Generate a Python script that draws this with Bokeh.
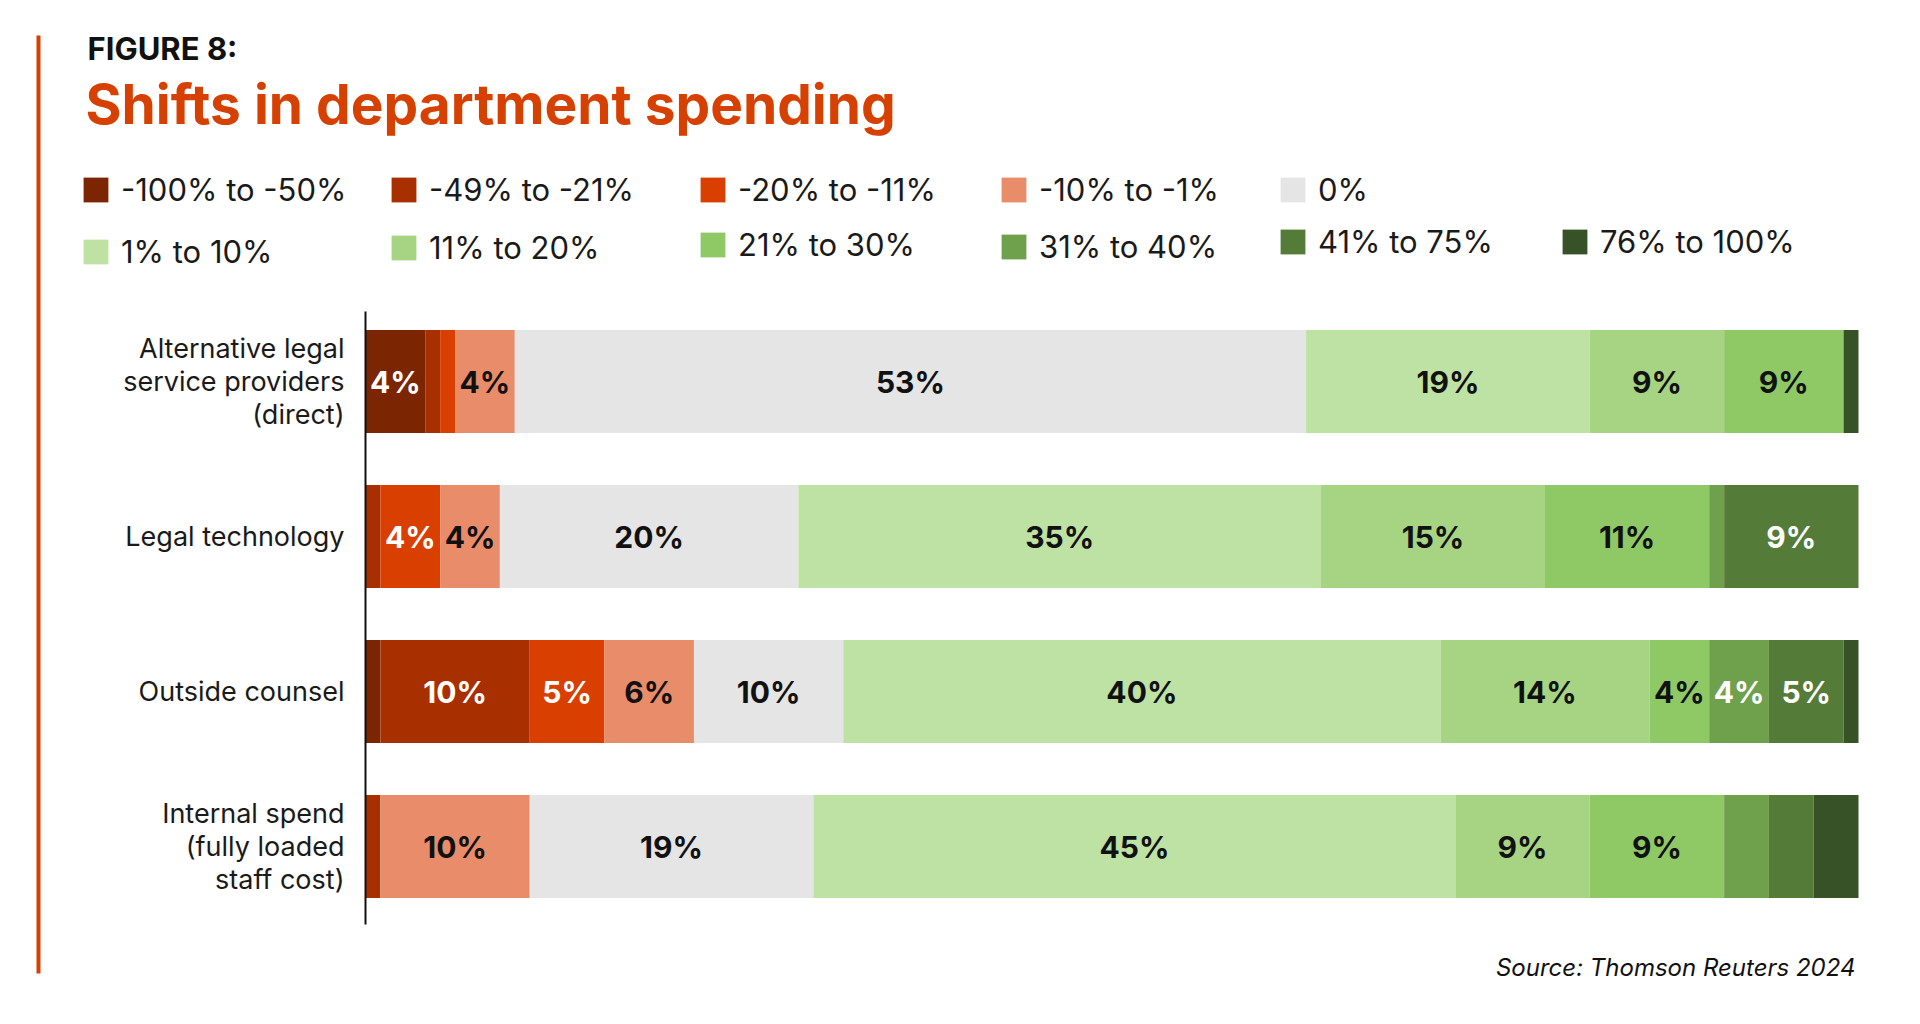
from bokeh.plotting import figure
from bokeh.models import Legend, LegendItem, ColumnDataSource, Range1d, Label, BoxAnnotation
from bokeh.core.properties import value
from bokeh.embed import file_html
from bokeh.resources import INLINE

# ---------------- data ----------------
categories = [
    "Alternative legal\nservice providers\n(direct)",
    "Legal technology",
    "Outside counsel",
    "Internal spend\n(fully loaded\nstaff cost)",
]
bands = ["-100% to -50%", "-49% to -21%", "-20% to -11%", "-10% to -1%", "0%",
         "1% to 10%", "11% to 20%", "21% to 30%", "31% to 40%", "41% to 75%", "76% to 100%"]

alsp_values = [4, 1, 1, 4, 53, 19, 9, 8, 0, 0, 1]
legal_tech_values = [0, 1, 4, 4, 20, 35, 15, 11, 1, 9, 0]
outside_counsel_values = [1, 10, 5, 6, 10, 40, 14, 4, 4, 5, 1]
internal_spend_values = [0, 1, 0, 10, 19, 43, 9, 9, 3, 3, 3]

alsp_labels = ["4%", "", "", "4%", "53%", "19%", "9%", "9%", "", "", ""]
legal_tech_labels = ["", "", "4%", "4%", "20%", "35%", "15%", "11%", "", "9%", ""]
outside_counsel_labels = ["", "10%", "5%", "6%", "10%", "40%", "14%", "4%", "4%", "5%", ""]
internal_spend_labels = ["", "", "", "10%", "19%", "45%", "9%", "9%", "", "", ""]

band_colors = ["#7b2502", "#a83000", "#d93f00", "#e88c69", "#e5e5e5",
               "#bee2a3", "#a6d483", "#8fc965", "#6fa04b", "#557b39", "#385228"]
label_text_colors = ["#ffffff", "#ffffff", "#ffffff", "#111111", "#111111",
                     "#111111", "#111111", "#111111", "#ffffff", "#ffffff", "#ffffff"]

fig_label = "FIGURE 8:"
title_text = "Shifts in department spending"
source_text = "Source: Thomson Reuters 2024"

rows_values = [alsp_values, legal_tech_values, outside_counsel_values, internal_spend_values]
rows_labels = [alsp_labels, legal_tech_labels, outside_counsel_labels, internal_spend_labels]

# ---------------- layout (page pixels; figure sits at the 8px page margin) ----------------
PAGE_L, PAGE_T, PAGE_R, PAGE_B = 8, 8, 1912, 1016
W, H = PAGE_R - PAGE_L, PAGE_B - PAGE_T
FL, FR = 373, 1866          # x of 0% and 100%
C0, BP = 389, 155           # centre of first bar, bar pitch
AX_T, AX_B = 319, 932       # vertical axis line extent
FONT = "Inter"

PX = (FR - FL) / 100.0


def sx(x):
    return x - PAGE_L


def sy(y):
    return PAGE_B - y


p = figure(width=W, height=H, output_backend="svg", toolbar_location=None,
           x_range=Range1d((PAGE_L - FL) / PX, 100 + (PAGE_R - FR) / PX),
           y_range=Range1d((PAGE_B - C0) / BP, (PAGE_T - C0) / BP),
           x_axis_location=None, y_axis_location=None, min_border=0)
p.outline_line_color = None
p.grid.visible = False
p.background_fill_color = "white"

positions = list(range(len(categories)))

keys = [f"b{i}" for i in range(len(bands))]
data = {"y": positions}
for i, k in enumerate(keys):
    data[k] = [rv[i] * 100.0 / sum(rv) for rv in rows_values]
source = ColumnDataSource(data)
renderers = p.hbar_stack(keys, y="y", height=103 / BP, source=source,
                         fill_color=band_colors, line_color=None)

# segment labels
lx, ly, lt, lc = [], [], [], []
for pos, rv, labs in zip(positions, rows_values, rows_labels):
    tot = sum(rv)
    cum = 0.0
    for i, v in enumerate(rv):
        w = v * 100.0 / tot
        if labs[i]:
            lx.append(cum + w / 2)
            ly.append(pos)
            lt.append(labs[i])
            lc.append(label_text_colors[i])
        cum += w
lab_src = ColumnDataSource(dict(x=lx, y=ly, text=lt, color=lc))
p.text(x="x", y="y", text="text", text_color="color", source=lab_src,
       text_font=value(FONT), text_font_style="bold", text_font_size="30px",
       text_align="center", text_baseline="middle")

# category axis: line + labels
p.segment(x0=[0], x1=[0], y0=[(AX_T - C0) / BP], y1=[(AX_B - C0) / BP],
          line_color="#111111", line_width=2)
cat_src = ColumnDataSource(dict(x=[-21 / PX] * len(categories), y=positions, text=categories))
p.text(x="x", y="y", text="text", source=cat_src, text_font=value(FONT),
       text_font_size="27px", text_color="#1a1a1a", text_align="right",
       text_baseline="middle", text_line_height=1.0)

# legends, one per band
swatch_left = [91, 399, 708, 1009, 1288, 91, 399, 708, 1009, 1288, 1570]
swatch_mid = [197, 197, 197, 197, 197, 259, 255, 252, 254, 249, 249]
for i in range(len(bands)):
    lg = Legend(items=[LegendItem(label=bands[i], renderers=[renderers[i]])],
                location=(sx(swatch_left[i] - 3), sy(swatch_mid[i] + 19)),
                glyph_width=31, glyph_height=31, label_standoff=10,
                label_text_font=FONT, label_text_font_size="31px",
                label_text_color="#1a1a1a", padding=0, margin=0, spacing=0,
                border_line_color=None, background_fill_alpha=0)
    p.add_layout(lg)

# titles and source
p.add_layout(Label(x=sx(95), y=sy(56), x_units="screen", y_units="screen",
                   text=fig_label, text_font=FONT, text_font_size="31px",
                   text_font_style="bold", text_color="#111111",
                   text_baseline="middle", text_align="left"))
p.add_layout(Label(x=sx(93), y=sy(111), x_units="screen", y_units="screen",
                   text=title_text, text_font=FONT, text_font_size="55px",
                   text_font_style="bold", text_color="#d64000",
                   text_baseline="middle", text_align="left"))
p.add_layout(Label(x=sx(1863), y=sy(975), x_units="screen", y_units="screen",
                   text=source_text, text_font=FONT, text_font_size="24px",
                   text_font_style="italic", text_color="#111111",
                   text_baseline="middle", text_align="right"))

# red vertical rule
p.add_layout(BoxAnnotation(left=sx(44), right=sx(48), top=sy(43), bottom=sy(981),
                           left_units="screen", right_units="screen",
                           top_units="screen", bottom_units="screen",
                           fill_color="#d64000", fill_alpha=1, line_color=None))

open("out.html", "w").write(file_html(p, INLINE))
